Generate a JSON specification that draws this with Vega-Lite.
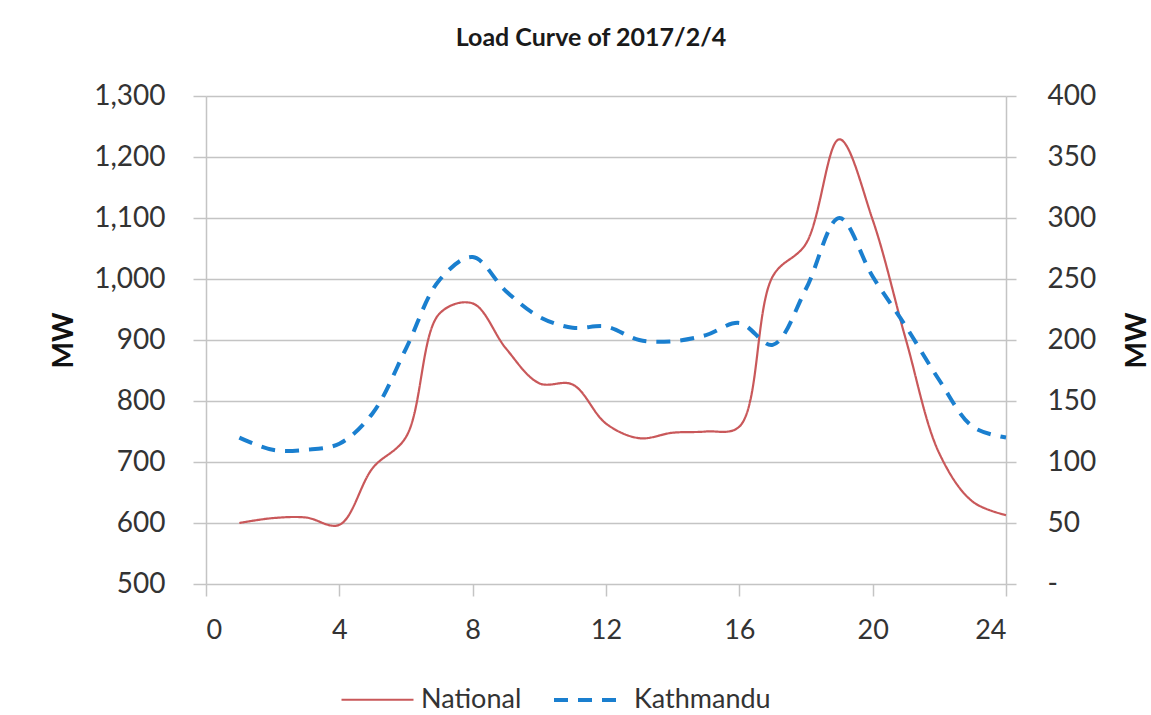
{
  "$schema": "https://vega.github.io/schema/vega-lite/v6.json",
  "width": 800,
  "height": 488,
  "autosize": {"type": "none"},
  "padding": {"left": 206, "top": 96, "right": 145, "bottom": 131},
  "background": "white",
  "title": {
    "text": "Load Curve of 2017/2/4",
    "font": "Lato",
    "fontSize": 25,
    "fontWeight": "bold",
    "color": "#1a1a1a",
    "anchor": "middle",
    "dx": -15,
    "offset": 31
  },
  "data": {
    "values": [
      {"hour": 1, "series": "National", "value": 600},
      {"hour": 2, "series": "National", "value": 608},
      {"hour": 3, "series": "National", "value": 609},
      {"hour": 4, "series": "National", "value": 597},
      {"hour": 5, "series": "National", "value": 690},
      {"hour": 6, "series": "National", "value": 741},
      {"hour": 7, "series": "National", "value": 943},
      {"hour": 8, "series": "National", "value": 960},
      {"hour": 9, "series": "National", "value": 886},
      {"hour": 10, "series": "National", "value": 829},
      {"hour": 11, "series": "National", "value": 827},
      {"hour": 12, "series": "National", "value": 763},
      {"hour": 13, "series": "National", "value": 739},
      {"hour": 14, "series": "National", "value": 748},
      {"hour": 15, "series": "National", "value": 750},
      {"hour": 16, "series": "National", "value": 758},
      {"hour": 17, "series": "National", "value": 1004},
      {"hour": 18, "series": "National", "value": 1058},
      {"hour": 19, "series": "National", "value": 1229},
      {"hour": 20, "series": "National", "value": 1097},
      {"hour": 21, "series": "National", "value": 900},
      {"hour": 22, "series": "National", "value": 714},
      {"hour": 23, "series": "National", "value": 635},
      {"hour": 24, "series": "National", "value": 613},
      {"hour": 1, "series": "Kathmandu", "value": 120},
      {"hour": 2, "series": "Kathmandu", "value": 110},
      {"hour": 3, "series": "Kathmandu", "value": 110},
      {"hour": 4, "series": "Kathmandu", "value": 115},
      {"hour": 5, "series": "Kathmandu", "value": 140},
      {"hour": 6, "series": "Kathmandu", "value": 193},
      {"hour": 7, "series": "Kathmandu", "value": 249},
      {"hour": 8, "series": "Kathmandu", "value": 268},
      {"hour": 9, "series": "Kathmandu", "value": 240},
      {"hour": 10, "series": "Kathmandu", "value": 219},
      {"hour": 11, "series": "Kathmandu", "value": 210},
      {"hour": 12, "series": "Kathmandu", "value": 211},
      {"hour": 13, "series": "Kathmandu", "value": 200},
      {"hour": 14, "series": "Kathmandu", "value": 199},
      {"hour": 15, "series": "Kathmandu", "value": 204},
      {"hour": 16, "series": "Kathmandu", "value": 214},
      {"hour": 17, "series": "Kathmandu", "value": 196},
      {"hour": 18, "series": "Kathmandu", "value": 242},
      {"hour": 19, "series": "Kathmandu", "value": 300},
      {"hour": 20, "series": "Kathmandu", "value": 252},
      {"hour": 21, "series": "Kathmandu", "value": 211},
      {"hour": 22, "series": "Kathmandu", "value": 167},
      {"hour": 23, "series": "Kathmandu", "value": 129},
      {"hour": 24, "series": "Kathmandu", "value": 120}
    ]
  },
  "encoding": {
    "x": {
      "field": "hour",
      "type": "quantitative",
      "scale": {"domain": [0, 24], "nice": false, "zero": false},
      "axis": {
        "values": [0, 4, 8, 12, 16, 20, 24],
        "title": null,
        "grid": false,
        "domain": false,
        "tickSize": 12,
        "tickColor": "#c4c4c4",
        "tickWidth": 1.5,
        "labelPadding": 21,
        "labelFont": "Lato",
        "labelFontSize": 27,
        "labelColor": "#333333"
      }
    },
    "color": {
      "field": "series",
      "type": "nominal",
      "scale": {"domain": ["National", "Kathmandu"], "range": ["#c9585a", "#1a7fcf"]},
      "legend": {
        "orient": "none",
        "legendX": 134,
        "legendY": 566,
        "direction": "horizontal",
        "title": null,
        "symbolType": "stroke",
        "symbolSize": 5184,
        "labelFont": "Lato",
        "labelFontSize": 27,
        "labelColor": "#333333",
        "labelOffset": 6,
        "columnPadding": 24
      }
    },
    "strokeDash": {
      "field": "series",
      "type": "nominal",
      "scale": {"domain": ["National", "Kathmandu"], "range": [[1, 0], [14, 10]]},
      "legend": {
        "orient": "none",
        "legendX": 134,
        "legendY": 566,
        "direction": "horizontal",
        "title": null,
        "symbolType": "stroke",
        "symbolSize": 5184,
        "labelFont": "Lato",
        "labelFontSize": 27,
        "labelColor": "#333333",
        "labelOffset": 6,
        "columnPadding": 24
      }
    },
    "strokeWidth": {
      "field": "series",
      "type": "nominal",
      "scale": {"domain": ["National", "Kathmandu"], "range": [2.2, 4]},
      "legend": {
        "orient": "none",
        "legendX": 134,
        "legendY": 566,
        "direction": "horizontal",
        "title": null,
        "symbolType": "stroke",
        "symbolSize": 5184,
        "labelFont": "Lato",
        "labelFontSize": 27,
        "labelColor": "#333333",
        "labelOffset": 6,
        "columnPadding": 24
      }
    }
  },
  "layer": [
    {
      "transform": [{"filter": "datum.series === 'National'"}],
      "mark": {"type": "line", "interpolate": "catmull-rom"},
      "encoding": {
        "y": {
          "field": "value",
          "type": "quantitative",
          "scale": {"domain": [500, 1300], "nice": false, "zero": false},
          "axis": {
            "orient": "left",
            "values": [500, 600, 700, 800, 900, 1000, 1100, 1200, 1300],
            "format": ",.0f",
            "title": "MW",
            "titleFont": "Lato",
            "titleFontSize": 28,
            "titleFontWeight": "bold",
            "titleColor": "#111111",
            "titlePadding": 15,
            "grid": true,
            "gridColor": "#c4c4c4",
            "gridWidth": 1.5,
            "domainColor": "#c4c4c4",
            "domainWidth": 1.5,
            "tickSize": 13,
            "tickColor": "#c4c4c4",
            "tickWidth": 1.5,
            "labelPadding": 28,
            "labelFont": "Lato",
            "labelFontSize": 28,
            "labelColor": "#333333"
          }
        }
      }
    },
    {
      "transform": [{"filter": "datum.series === 'Kathmandu'"}],
      "mark": {"type": "line", "interpolate": "catmull-rom"},
      "encoding": {
        "y": {
          "field": "value",
          "type": "quantitative",
          "scale": {"domain": [0, 400], "nice": false},
          "axis": {
            "orient": "right",
            "values": [0, 50, 100, 150, 200, 250, 300, 350, 400],
            "labelExpr": "datum.value === 0 ? '-' : datum.label",
            "title": "MW",
            "titleAngle": 270,
            "titleFont": "Lato",
            "titleFontSize": 28,
            "titleFontWeight": "bold",
            "titleColor": "#111111",
            "titlePadding": 56,
            "grid": false,
            "domainColor": "#c4c4c4",
            "domainWidth": 1.5,
            "tickSize": 10,
            "tickColor": "#c4c4c4",
            "tickWidth": 1.5,
            "labelPadding": 31,
            "labelFont": "Lato",
            "labelFontSize": 28,
            "labelColor": "#333333"
          }
        }
      }
    }
  ],
  "resolve": {"scale": {"y": "independent"}},
  "config": {
    "view": {"stroke": null}
  }
}
